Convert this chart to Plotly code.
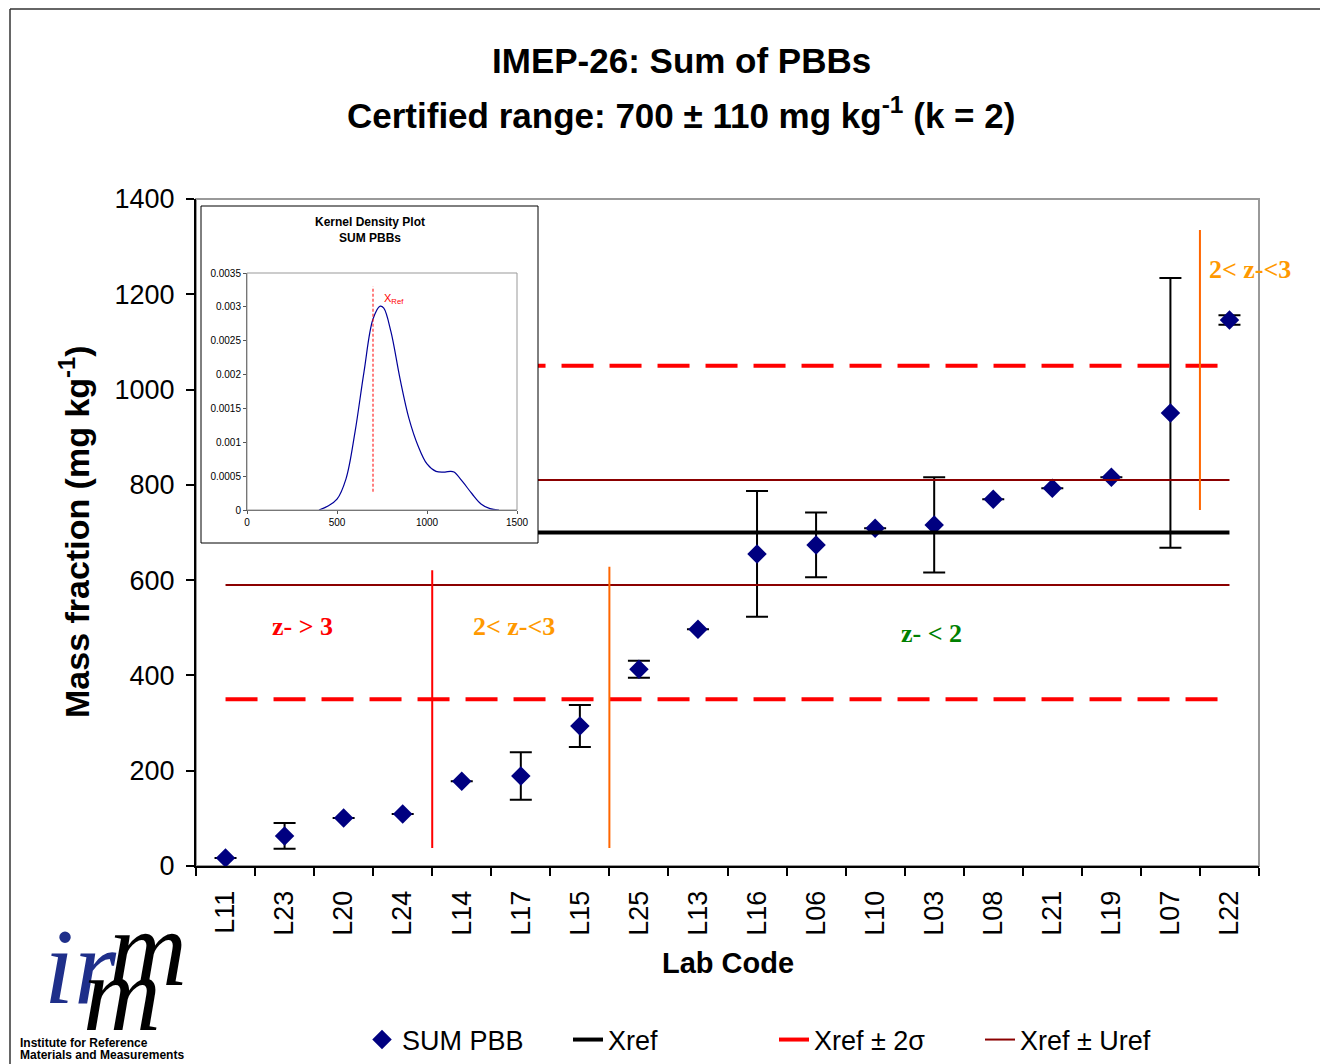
import plotly.graph_objects as go

# lab results, in the order shown
labs = ['L11', 'L23', 'L20', 'L24', 'L14', 'L17', 'L15', 'L25', 'L13',
        'L16', 'L06', 'L10', 'L03', 'L08', 'L21', 'L19', 'L07', 'L22']
values = [17, 63, 101, 109, 178, 189, 294, 413, 497,
          655, 674, 709, 716, 770, 793, 816, 951, 1146]
uncert = [0, 27, 0, 0, 0, 50, 44, 18, 0,
          132, 68, 0, 100, 0, 0, 0, 283, 10]

xref = 700
uref = 110
two_sigma = 350

# zone borders: line drawn after these labs
zone_after = ['L24', 'L15', 'L07']
zone_lo = [38, 38, 747]
zone_hi = [621, 628, 1335]
zone_col = ['#FF0000', '#FF6600', '#FF6600']

zone_text = ['z- > 3', '2< z-<3', 'z- < 2', '2< z-<3']
zone_tx = [1.31, 4.88, 11.96, 17.35]
zone_ty = [502, 502, 487, 1251]
zone_tcol = ['#FF0000', '#FF9900', '#008000', '#FF9900']

yticks = [0, 200, 400, 600, 800, 1000, 1200, 1400]

# kernel density inset
kde_x = [400, 450, 500, 550, 600, 650, 700, 740, 760, 800, 850, 900, 950,
         1000, 1050, 1100, 1130, 1150, 1200, 1250, 1300, 1350, 1400]
kde_y = [0, 0.00006, 0.00016, 0.00046, 0.00115, 0.00204, 0.00282, 0.00301,
         0.00298, 0.00263, 0.00194, 0.00135, 0.00095, 0.00068, 0.00057,
         0.00056, 0.00057, 0.00056, 0.00041, 0.00024, 0.00009, 0.00002, 0]
kde_ref_y = [0.00027, 0.0033]
kde_xticks = [0, 500, 1000, 1500]
kde_yticks = [0, 0.0005, 0.001, 0.0015, 0.002, 0.0025, 0.003, 0.0035]
kde_yticktext = ['0', '0.0005', '0.001', '0.0015', '0.002', '0.0025', '0.003', '0.0035']

# page is 1328x1064, the figure sits 8px in from the top-left (body margin)
OFF = 8
W, H = 1328 - OFF, 1064 - OFF
X0, X1, Y0, Y1 = 196, 1259, 199, 866   # plot area in page pixels
ML, MR, MT, MB = X0 - OFF, 1328 - X1, Y0 - OFF, 1064 - Y1
PW, PH = X1 - X0, Y1 - Y0


def px(x):
    return (x - X0) / PW


def py(y):
    return (Y1 - y) / PH


FONT = 'Liberation Sans'
SERIF = 'Liberation Serif'

fig = go.Figure()

first, last = labs[0], labs[-1]

fig.add_trace(go.Scatter(
    x=labs, y=values, mode='markers', name='SUM PBB',
    marker=dict(symbol='diamond', size=15, color='#000080'),
    error_y=dict(type='data', array=uncert, color='black', thickness=2, width=11)))

fig.add_trace(go.Scatter(
    x=[first, last], y=[xref, xref], mode='lines', name='Xref',
    line=dict(color='black', width=4)))

for i, s in enumerate([1, -1]):
    fig.add_trace(go.Scatter(
        x=[first, last], y=[xref + s * two_sigma] * 2, mode='lines',
        name='Xref ± 2σ', legendgroup='2s', showlegend=(i == 0),
        line=dict(color='#FF0000', width=4, dash='32px,16px')))

for i, s in enumerate([1, -1]):
    fig.add_trace(go.Scatter(
        x=[first, last], y=[xref + s * uref] * 2, mode='lines',
        name='Xref ± Uref', legendgroup='u', showlegend=(i == 0),
        line=dict(color='#8B0000', width=2)))

# white cover behind the inset
bx0, bx1, by0, by1 = px(201), px(538), py(543), py(206)
fig.add_trace(go.Scatter(
    x=[0, 1, 1, 0, 0], y=[0, 0, 1, 1, 0], mode='lines', fill='toself',
    fillcolor='white', line=dict(width=0), showlegend=False, hoverinfo='skip',
    xaxis='x2', yaxis='y2'))

# inset curve
fig.add_trace(go.Scatter(
    x=kde_x, y=kde_y, mode='lines', line=dict(color='#000099', width=1.2, shape='spline'),
    showlegend=False, xaxis='x3', yaxis='y3'))
fig.add_trace(go.Scatter(
    x=[xref, xref], y=kde_ref_y, mode='lines', line=dict(color='#FF0000', width=1, dash='3px,2px'),
    showlegend=False, xaxis='x3', yaxis='y3'))

shapes = []
# plot frame
shapes.append(dict(type='rect', xref='paper', yref='paper', x0=0, x1=1, y0=0, y1=1,
                   line=dict(color='#999999', width=2), layer='below'))
# zone lines
for lab, lo, hi, c in zip(zone_after, zone_lo, zone_hi, zone_col):
    xi = labs.index(lab) + 0.5
    shapes.append(dict(type='line', xref='x', yref='y', x0=xi, x1=xi, y0=lo, y1=hi,
                       line=dict(color=c, width=2)))
# inset box
shapes.append(dict(type='rect', xref='paper', yref='paper', x0=bx0, x1=bx1, y0=by0, y1=by1,
                   line=dict(color='black', width=1)))
# inset plot area
ix0, ix1, iy0, iy1 = px(247), px(517), py(510), py(273)
shapes.append(dict(type='rect', xref='paper', yref='paper', x0=ix0, x1=ix1, y0=iy0, y1=iy1,
                   line=dict(color='#999999', width=1)))
# page border
shapes.append(dict(type='line', xref='paper', yref='paper', x0=px(10), x1=px(1330), y0=py(9), y1=py(9),
                   line=dict(color='#333333', width=1.5)))
shapes.append(dict(type='line', xref='paper', yref='paper', x0=px(10), x1=px(10), y0=py(9), y1=py(1066),
                   line=dict(color='#333333', width=1.5)))


def note(text, x, y, size, color='black', family=FONT, **kw):
    d = dict(text=text, xref='paper', yref='paper', x=px(x), y=py(y), showarrow=False,
             xanchor='center', yanchor='middle', font=dict(family=family, size=size, color=color))
    d.update(kw)
    return d


ann = []
ann.append(note('<b>IMEP-26: Sum of PBBs</b>', 681, 60, 35))
ann.append(note('<b>Certified range: 700 ± 110 mg kg<sup>-1</sup> (k = 2)</b>', 681, 113, 35))
ann.append(note('<b>Mass fraction (mg kg<sup>-1</sup>)</b>', 74, 532, 34, textangle=-90))
ann.append(note('<b>Lab Code</b>', 728, 963, 29))
for t, xx, yy, c in zip(zone_text, zone_tx, zone_ty, zone_tcol):
    ann.append(dict(text='<b>' + t + '</b>', xref='x', yref='y', x=xx, y=yy, showarrow=False,
                    xanchor='center', yanchor='middle',
                    font=dict(family=SERIF, size=26, color=c)))
# inset texts
ann.append(note('<b>Kernel Density Plot</b>', 370, 222, 12))
ann.append(note('<b>SUM PBBs</b>', 370, 238, 12))
ann.append(dict(text='X<sub>Ref</sub>', xref='x3', yref='y3', x=xref + 115, y=0.00312,
                showarrow=False, xanchor='center', yanchor='middle',
                font=dict(family=FONT, size=11, color='#FF0000')))
# logo
ann.append(note('<i>ir</i>', 80, 966, 108, color='#1F2F8A', family=SERIF))
ann.append(note('<i>m</i>', 148, 948, 108, family=SERIF))
ann.append(note('<i>m</i>', 122, 994, 108, family=SERIF))
ann.append(note('<b>Institute for Reference</b>', 18, 1043, 12, xanchor='left'))
ann.append(note('<b>Materials and Measurements</b>', 18, 1055, 12, xanchor='left'))

fig.update_layout(
    width=W, height=H, autosize=False,
    margin=dict(l=ML, r=MR, t=MT, b=MB, pad=0),
    paper_bgcolor='white', plot_bgcolor='white',
    font=dict(family=FONT, color='black'),
    showlegend=True,
    legend=dict(orientation='h', x=px(362), xanchor='left',
                yref='container', y=(H - (1040 - OFF)) / H, yanchor='middle',
                entrywidth=161, entrywidthmode='pixels',
                font=dict(family=FONT, size=27, color='black'), bgcolor='rgba(0,0,0,0)'),
    xaxis=dict(type='category', categoryorder='array', categoryarray=labs,
               range=[-0.5, len(labs) - 0.5], tickson='boundaries',
               ticks='outside', ticklen=8, tickwidth=1.5, tickcolor='black',
               tickangle=-90, tickfont=dict(size=27), ticklabelstandoff=12,
               showline=True, linecolor='black', linewidth=2, showgrid=False, zeroline=False),
    yaxis=dict(range=[0, 1400], tickvals=yticks, ticks='outside', ticklen=8, tickwidth=1.5,
               tickcolor='black', tickfont=dict(size=27), ticklabelstandoff=6,
               showline=True, linecolor='black', linewidth=2, showgrid=False, zeroline=False),
    xaxis2=dict(domain=[bx0, bx1], anchor='y2', range=[0, 1], visible=False, fixedrange=True),
    yaxis2=dict(domain=[by0, by1], anchor='x2', range=[0, 1], visible=False, fixedrange=True),
    xaxis3=dict(domain=[ix0, ix1], anchor='y3', range=[0, 1500], tickvals=kde_xticks,
                ticks='outside', ticklen=3, tickcolor='#555555', tickfont=dict(size=10),
                showline=True, linecolor='#555555', linewidth=1, showgrid=False, zeroline=False),
    yaxis3=dict(domain=[iy0, iy1], anchor='x3', range=[0, 0.0035], tickvals=kde_yticks,
                ticktext=kde_yticktext, ticks='outside', ticklen=3, tickcolor='#555555',
                tickfont=dict(size=10),
                showline=True, linecolor='#555555', linewidth=1, showgrid=False, zeroline=False),
    shapes=shapes, annotations=ann,
)

fig.write_html('out.html')
